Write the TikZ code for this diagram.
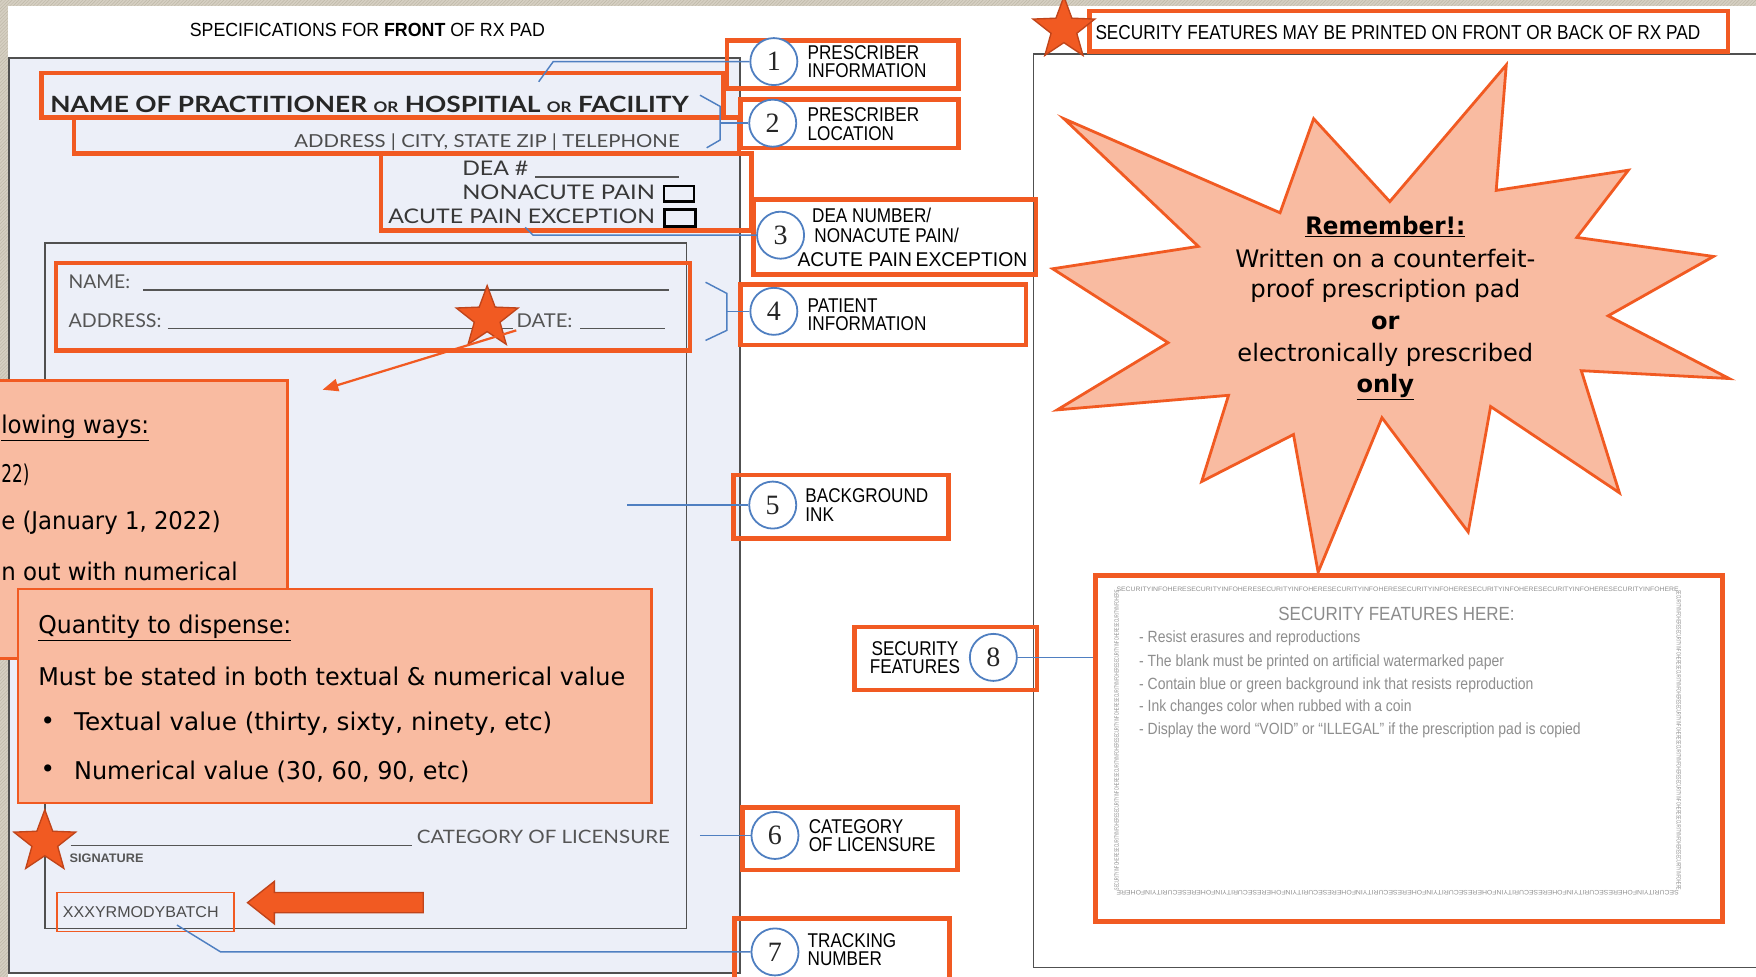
\documentclass[tikz,border=0pt]{standalone}
\usepackage{fontspec}
\usepackage{graphicx}
\setmainfont{Liberation Sans}
\newfontfamily\narrow[FakeStretch=0.86]{Liberation Sans}
\newfontfamily\gill{Lato}
\newfontfamily\tahoma{DejaVu Sans}
\newfontfamily\numfont{Liberation Serif}
\usetikzlibrary{shapes.geometric,patterns,arrows.meta}
\definecolor{orangeC}{HTML}{F15A22}
\definecolor{starline}{HTML}{C0441A}
\definecolor{salmon}{HTML}{F9BBA1}
\definecolor{blueC}{HTML}{4F7FC1}
\definecolor{padfill}{HTML}{ECEFF8}
\definecolor{padline}{HTML}{505050}
\definecolor{backdrop}{HTML}{D5CFC2}
\definecolor{backline}{HTML}{BFB8A8}
\definecolor{inkgray}{HTML}{555555}
\definecolor{secgray}{HTML}{8E8E8E}
% scale a text horizontally to a given width, keeping its height
\newcommand\fw[2]{\resizebox{#1}{\height}{#2}}
\newcommand\microtext{SECURITYINFOHERESECURITYINFOHERESECURITYINFOHERESECURITYINFOHERESECURITYINFOHERESECURITYINFOHERESECURITYINFOHERESECURITYINFOHERE}
\begin{document}
\begin{tikzpicture}[x=1pt,y=-1pt,
  obox/.style={draw=orangeC, line width=4pt},
  thinobox/.style={draw=orangeC, line width=1.3pt},
  blueline/.style={draw=blueC, line width=1.3pt},
  padframe/.style={draw=padline, line width=1.4pt},
  numcircle/.style={circle, draw=blueC, line width=1.6pt, fill=white, minimum size=42pt, inner sep=0pt,
    font=\numfont\fontsize{25}{25}\selectfont, text=black!85},
  calltext/.style={anchor=west, align=left, inner sep=0pt, font=\narrow\fontsize{17.8}{16.5}\selectfont, text=black},
  padtext/.style={inner sep=0pt, font=\gill\fontsize{17}{20}\selectfont, text=black!78},
  notebox/.style={draw=orangeC, fill=salmon, line width=2.5pt},
  notetext/.style={anchor=west, inner sep=0pt, font=\tahoma\fontsize{21.8}{24}\selectfont, text=black},
  bursttext/.style={inner sep=0pt, font=\tahoma\fontsize{21.5}{24}\selectfont, text=black},
  orstar/.style={star, star points=5, star point ratio=2.4, fill=orangeC, draw=starline, line width=1.2pt, inner sep=0pt},
  secline/.style={anchor=west, inner sep=0pt, font=\narrow\fontsize{14.5}{15}\selectfont, text=secgray},
  micro/.style={inner sep=0pt, font=\narrow\fontsize{5}{5}\selectfont, text=secgray},
  ulead/.style={draw=inkgray, line width=1.1pt}
]
\useasboundingbox (0,0) rectangle (1568,872);
\clip (0,0) rectangle (1568,872);

% textured backdrop and white sheet
\fill[backdrop] (0,0) rectangle (1568,872);
\fill[pattern=north east lines, pattern color=backline] (0,0) rectangle (1568,872);
\fill[white] (7,5) rectangle (1600,900);

% front of pad
\draw[padframe, fill=padfill] (8,52) rectangle (661,869);
\draw[padframe] (40,217) rectangle (613,829);
% back sheet
\draw[padframe] (1620,48) -| (923,864) -- (1620,864);

% headings
\node[inner sep=0pt, font=\narrow\fontsize{17}{18}\selectfont] (title) at (328,27)
  {\fw{317pt}{SPECIFICATIONS FOR \textbf{FRONT} OF RX PAD}};

% prescriber block
\draw[obox] (37,65) rectangle (646,105);
\draw[obox] (66,105) rectangle (660,137);
\draw[obox] (340,137) rectangle (671,206);
\node[padtext, font=\gill\bfseries\fontsize{20}{24}\selectfont, text=black!85] (pname) at (330,93)
  {\fw{570pt}{NAME OF PRACTITIONER {\fontsize{13}{13}\selectfont OR} HOSPITIAL {\fontsize{13}{13}\selectfont OR} FACILITY}};
\node[padtext, anchor=east, font=\gill\fontsize{16}{20}\selectfont, text=black!70] (paddr) at (607,127)
  {\fw{344pt}{ADDRESS | CITY, STATE ZIP | TELEPHONE}};
\node[padtext, anchor=east, font=\gill\fontsize{18}{20}\selectfont] (dea) at (472,150) {\fw{59pt}{DEA \#}};
\draw[ulead] (478,158) -- (606,158);
\node[padtext, anchor=east, font=\gill\fontsize{18}{20}\selectfont] (nonac) at (585,172) {\fw{172pt}{NONACUTE PAIN}};
\node[padtext, anchor=east, font=\gill\fontsize{18}{20}\selectfont] (acute) at (585,193) {\fw{238pt}{ACUTE PAIN EXCEPTION}};
\draw[black, line width=2pt] (593,166) rectangle (620,180);
\draw[black, line width=2.6pt] (593,187) rectangle (621,202);

% patient block
\draw[obox] (50,235) rectangle (616,313);
\node[padtext, anchor=west, font=\gill\fontsize{17}{18}\selectfont, text=inkgray] (ptname) at (61,252) {\fw{55pt}{NAME:}};
\draw[ulead] (128,259) -- (597,259);
\node[padtext, anchor=west, font=\gill\fontsize{17}{18}\selectfont, text=inkgray] (ptaddr) at (61,286) {\fw{83pt}{ADDRESS:}};
\draw[ulead] (150,293) -- (458,293);
\node[padtext, anchor=west, font=\gill\fontsize{17}{18}\selectfont, text=inkgray] (ptdate) at (461,286) {\fw{50pt}{DATE:}};
\draw[ulead] (518,293) -- (594,293);

% signature and licensure
\draw[ulead] (63,755) -- (368,755);
\node[padtext, anchor=west, font=\gill\fontsize{16.5}{18}\selectfont, text=inkgray] (licen) at (372,747) {\fw{226pt}{CATEGORY OF LICENSURE}};
\node[padtext, anchor=west, font=\narrow\bfseries\fontsize{11}{12}\selectfont, text=inkgray] (sign) at (62,766) {\fw{66pt}{SIGNATURE}};

% tracking number
\draw[thinobox] (51,797) rectangle (209,832);
\node[padtext, anchor=west, font=\narrow\fontsize{14}{15}\selectfont, text=black!70] (batch) at (56,814) {\fw{139pt}{XXXYRMODYBATCH}};

% note about the date (partly off the left edge)
\draw[notebox] (-60,340) rectangle (257,588);
\node[notetext] (d1) at (1,382) {\fw{132pt}{\underline{lowing ways:}}};
\node[notetext] (d2) at (1,424) {\fw{25pt}{22)}};
\node[notetext] (d3) at (1,467) {\fw{196pt}{e (January 1, 2022)}};
\node[notetext] (d4) at (1,510) {\fw{211pt}{n out with numerical}};

% note about quantity
\draw[notebox] (16,526) rectangle (582,717);
\node[notetext] (q1) at (34,561) {\fw{226pt}{\underline{Quantity to dispense:}}};
\node[notetext] (q2) at (34,604) {\fw{524pt}{Must be stated in both textual \& numerical value}};
\node[notetext] (q3b) at (36,646) {\textbullet};
\node[notetext] (q3) at (66,646) {\fw{427pt}{Textual value (thirty, sixty, ninety, etc)}};
\node[notetext] (q4b) at (36,689) {\textbullet};
\node[notetext] (q4) at (66,689) {\fw{353pt}{Numerical value (30, 60, 90, etc)}};

% stars and arrows on the pad
\node[orstar, minimum size=58pt] (starpt) at (435,284) {};
\coordinate (arrfrom) at (461,295);
\coordinate (arrto) at (288,348);
\draw[orangeC, line width=2pt, -{Triangle[length=14pt,width=11pt]}] (arrfrom) -- (arrto);
\node[orstar, minimum size=58pt] (starsig) at (40,752) {};
\draw[starline, fill=orangeC, line width=1.2pt] (221,806) -- (245,787) -- (245,797) -- (378,797)
  -- (378,815) -- (245,815) -- (245,825) -- cycle;

% callouts
\draw[obox] (649,36) rectangle (856,79);
\draw[obox] (661,89) rectangle (856,132);
\draw[obox] (673,178) rectangle (925,245);
\draw[obox] (661,254) rectangle (916,308);
\draw[obox] (655,424) rectangle (847,481);
\draw[obox] (663,721) rectangle (855,777);
\draw[obox] (656,820) rectangle (848,900);
\draw[obox] (763,560) rectangle (926,616);

% leader lines
\coordinate (k1a) at (494,55);
\coordinate (k1b) at (481,73);
\coordinate (k2a) at (625,85);
\coordinate (k2b) at (643,95);
\coordinate (k2c) at (643,125);
\coordinate (k2d) at (631,132);
\coordinate (k2m) at (643,110);
\coordinate (k3a) at (469,203);
\coordinate (k3b) at (476,210);
\coordinate (k4a) at (630,252);
\coordinate (k4b) at (649,262);
\coordinate (k4c) at (649,295);
\coordinate (k4d) at (630,304);
\coordinate (k4m) at (649,278);
\coordinate (k5) at (560,451);
\coordinate (k6) at (625,746);
\coordinate (k7a) at (158,826);
\coordinate (k7b) at (197,850);
\coordinate (k8) at (978,587);

\node[numcircle] (c1) at (691,55) {1};
\node[numcircle] (c2) at (690,110) {2};
\node[numcircle] (c3) at (697,210) {3};
\node[numcircle] (c4) at (691,278) {4};
\node[numcircle] (c5) at (690,451) {5};
\node[numcircle] (c6) at (692,746) {6};
\node[numcircle] (c7) at (692,850) {7};
\node[numcircle] (c8) at (887,587) {8};

\draw[blueline] (c1.west) -- (k1a) -- (k1b);
\draw[blueline] (k2a) -- (k2b) -- (k2c) -- (k2d);
\draw[blueline] (k2m) -- (c2.west);
\draw[blueline] (k3a) -- (k3b) -- (c3.west);
\draw[blueline] (k4a) -- (k4b) -- (k4c) -- (k4d);
\draw[blueline] (k4m) -- (c4.west);
\draw[blueline] (k5) -- (c5.west);
\draw[blueline] (k6) -- (c6.west);
\draw[blueline] (k7a) -- (k7b) -- (c7.west);
\draw[blueline] (c8.east) -- (k8);

\node[calltext] (l1) at (721,55) {PRESCRIBER\\INFORMATION};
\node[calltext] (l2) at (721,111) {PRESCRIBER\\LOCATION};
\node[calltext] (l3a) at (725,192) {DEA NUMBER/};
\node[calltext] (l3b) at (727,210) {NONACUTE PAIN/};
\node[calltext] (l3c) at (712,232) {\fw{205pt}{ACUTE PAIN\,EXCEPTION}};
\node[calltext] (l4) at (721,281) {PATIENT\\INFORMATION};
\node[calltext] (l5) at (719,451) {BACKGROUND\\INK};
\node[calltext] (l6) at (722,746) {CATEGORY\\OF LICENSURE};
\node[calltext] (l7) at (721,848) {TRACKING\\NUMBER};
\node[calltext, anchor=center, align=center] (l8) at (817,587) {SECURITY\\FEATURES};

% back of pad: heading and star
\draw[obox] (973,10) rectangle (1543,46);
\node[inner sep=0pt, anchor=west, font=\narrow\fontsize{18}{18}\selectfont] (sechead) at (978,29)
  {\fw{540pt}{SECURITY FEATURES MAY BE PRINTED ON FRONT OR BACK OF RX PAD}};
\node[orstar, minimum size=58pt] (starhead) at (950,26) {};

% reminder burst
\draw[draw=orangeC, fill=salmon, line width=2.5pt, line join=miter]
  (950,106) -- (1143,190) -- (1173,106) -- (1241,180) -- (1345,58) -- (1336,170)
  -- (1454,152) -- (1408,212) -- (1530,229) -- (1436,282) -- (1544,338) -- (1412,331)
  -- (1446,440) -- (1331,363) -- (1311,475) -- (1234,373) -- (1177,511) -- (1155,388)
  -- (1073,430) -- (1097,353) -- (944,366) -- (1043,306) -- (940,240) -- (1070,220) -- cycle;
\node[bursttext, font=\tahoma\bfseries\fontsize{21.5}{24}\selectfont] (rem) at (1237,202) {\fw{143pt}{\underline{Remember!:}}};
\node[bursttext] (rem1) at (1237,231) {\fw{268pt}{Written on a counterfeit-}};
\node[bursttext] (rem2) at (1237,260) {\fw{241pt}{proof prescription pad}};
\node[bursttext, font=\tahoma\bfseries\fontsize{21.5}{24}\selectfont] (rem3) at (1237,288) {or};
\node[bursttext] (rem4) at (1237,317) {\fw{264pt}{electronically prescribed}};
\node[bursttext, font=\tahoma\bfseries\fontsize{21.5}{24}\selectfont] (rem5) at (1237,346) {\underline{only}};

% security features area
\draw[obox] (978,514) rectangle (1538,823);
\node[micro] (mtop) at (1248,526) {\resizebox{502pt}{4pt}{\microtext}};
\node[micro, rotate=180] (mbot) at (1248,797) {\resizebox{502pt}{4pt}{\microtext}};
\node[micro, rotate=90] (mleft) at (997,661) {\resizebox{268pt}{4pt}{\microtext}};
\node[micro, rotate=-90] (mright) at (1499,661) {\resizebox{268pt}{4pt}{\microtext}};
\node[inner sep=0pt, font=\narrow\fontsize{17}{18}\selectfont, text=black!45] (sfh) at (1247,548) {\fw{211pt}{SECURITY FEATURES HERE:}};
\node[secline] (s1) at (1017,570) {- Resist erasures and reproductions};
\node[secline] (s2) at (1017,591) {- The blank must be printed on artificial watermarked paper};
\node[secline] (s3) at (1017,612) {- Contain blue or green background ink that resists reproduction};
\node[secline] (s4) at (1017,632) {- Ink changes color when rubbed with a coin};
\node[secline] (s5) at (1017,652) {- Display the word “VOID” or “ILLEGAL” if the prescription pad is copied};
\end{tikzpicture}
\end{document}
